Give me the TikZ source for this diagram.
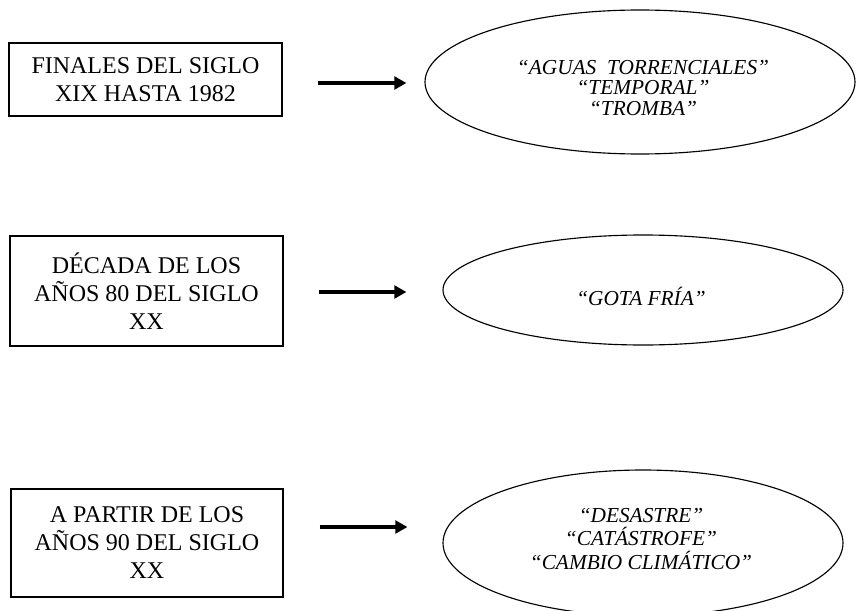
\documentclass[tikz,border=0pt]{standalone}
\usepackage{fontspec}
\setmainfont{Liberation Serif}
\usetikzlibrary{shapes.geometric,arrows.meta,calc}
\begin{document}
\begin{tikzpicture}[x=0.75pt,y=-0.75pt,
  period/.style={draw, line width=0.8pt, rectangle, inner sep=0pt, align=center,
    font=\fontsize{18}{21}\selectfont},
  term/.style={draw, line width=0.85pt, ellipse, inner sep=0pt},
  termtext/.style={align=center, inner sep=0pt},
  arr/.style={line width=2.6pt, -{Triangle[length=9pt,width=9.5pt]}}]
\useasboundingbox (0,0) rectangle (856,610);
\clip (0,0) rectangle (856,610);
\fill[white] (0,0) rectangle (856,610);

% period boxes
\node[period, minimum width=204.75pt, minimum height=54.75pt] (b1) at (145.5,79.5)
  {FINALES DEL SIGLO\\XIX HASTA 1982};
\node[period, minimum width=204.75pt, minimum height=82.5pt] (b2) at (146.5,291)
  {DÉCADA DE LOS\\AÑOS 80 DEL SIGLO\\XX};
\node[period, minimum width=204pt, minimum height=81pt] (b3) at (147,543)
  {A PARTIR DE LOS\\AÑOS 90 DEL SIGLO\\XX};

% term ellipses
\node[term, minimum width=322.5pt, minimum height=108pt] (e1) at (640,82) {};
\node[term, minimum width=300pt, minimum height=82.5pt] (e2) at (643,290) {};
\node[term, minimum width=300pt, minimum height=109.5pt] (e3) at (643,543) {};

\node[termtext, font=\fontsize{16}{15.5}\selectfont\itshape] (t1) at (643,88)
  {“AGUAS\ \ TORRENCIALES”\\“TEMPORAL”\\“TROMBA”};
\node[termtext, font=\fontsize{16}{16}\selectfont\itshape] (t2) at (641,296)
  {“GOTA FRÍA”};
\node[termtext, font=\fontsize{16}{17.5}\selectfont\itshape] (t3) at (641,539)
  {“DESASTRE”\\“CATÁSTROFE”\\“CAMBIO CLIMÁTICO”};

% arrows
\draw[arr] ($(b1.east)+(35,3.5)$) -- ($(e1.west)+(-18,1)$);
\draw[arr] ($(b2.east)+(35,1)$) -- ($(e2.west)+(-36,2)$);
\draw[arr] ($(b3.east)+(36,-16)$) -- ($(e3.west)+(-35,-16)$);
\end{tikzpicture}
\end{document}
